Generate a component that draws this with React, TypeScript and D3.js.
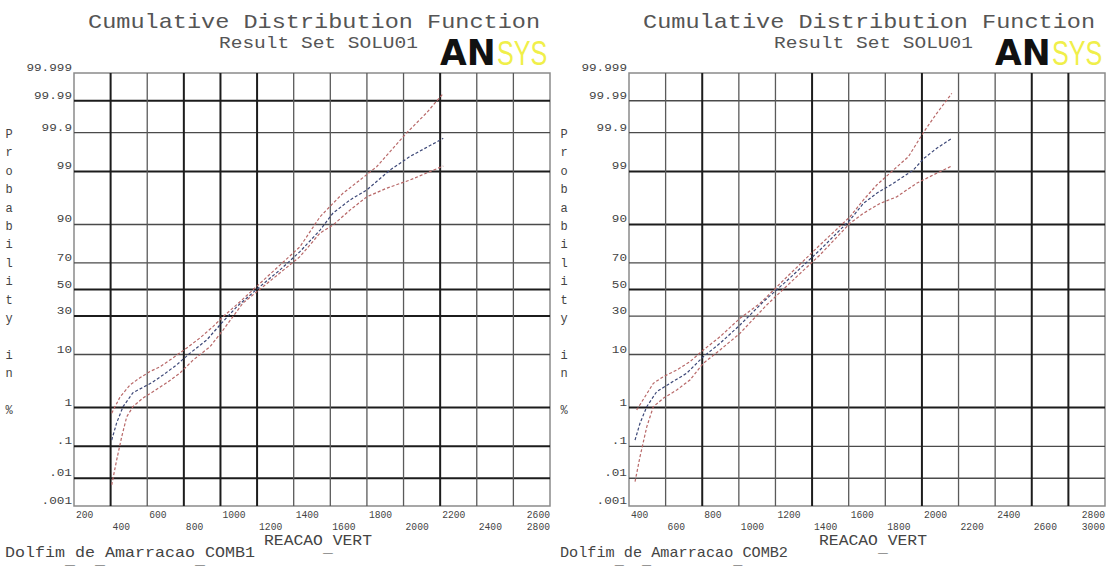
import React from "react";
import * as d3 from "d3";

// Probability axis (percent) and its labels
const probTicks = [0.001, 0.01, 0.1, 1, 10, 30, 50, 70, 90, 99, 99.9, 99.99, 99.999];
const probTickLabels = [".001", ".01", ".1", "1", "10", "30", "50", "70", "90", "99", "99.9", "99.99", "99.999"];

// REACAO_VERT ticks for each load combination
const comb1XTicks = [200, 400, 600, 800, 1000, 1200, 1400, 1600, 1800, 2000, 2200, 2400, 2600, 2800];
const comb2XTicks = [400, 600, 800, 1000, 1200, 1400, 1600, 1800, 2000, 2200, 2400, 2600, 2800, 3000];

// COMB1: fitted CDF and confidence bounds (value, cumulative probability %)
const comb1MeanX = [406, 433, 468, 522, 577, 624, 686, 761, 834, 925, 1007, 1089, 1200, 1325, 1434, 1544, 1615, 1707, 1799, 1926, 2035, 2217];
const comb1MeanP = [0.151, 0.43, 1.05, 2.1, 2.7, 3.3, 4.6, 6.9, 10.5, 16, 25.5, 36.7, 50.4, 65, 77.2, 87.9, 93.4, 96.1, 97.5, 99.07, 99.56, 99.855];
const comb1UpperX = [406, 451, 506, 560, 615, 670, 741, 816, 888, 959, 1014, 1107, 1270, 1434, 1544, 1598, 1669, 1762, 1853, 2017, 2126, 2217];
const comb1UpperP = [0.74, 1.7, 3.0, 4.1, 5.3, 6.4, 8.9, 12.5, 17, 23.2, 29.6, 40.5, 61.8, 80, 92.4, 94.9, 97.1, 98.45, 99.22, 99.898, 99.975, 99.9944];
const comb1LowerX = [406, 433, 461, 488, 522, 577, 631, 706, 779, 850, 943, 1014, 1123, 1280, 1434, 1544, 1615, 1707, 1799, 1908, 2035, 2217];
const comb1LowerP = [0.0059, 0.039, 0.19, 0.61, 1.05, 1.63, 2.2, 3.3, 5.0, 8.2, 13, 21.2, 39.5, 57.7, 74.1, 86.7, 89.8, 94.1, 96.6, 97.7, 98.45, 99.25];

// COMB2: fitted CDF and confidence bounds
const comb2MeanX = [433, 460, 497, 551, 624, 715, 806, 897, 1006, 1134, 1279, 1443, 1607, 1680, 1753, 1844, 1953, 2011, 2081, 2163];
const comb2MeanP = [0.151, 0.42, 1.05, 2.2, 3.23, 4.94, 9.28, 14.46, 24.2, 40.5, 59, 78.2, 91.45, 95.5, 97.1, 98.18, 99.07, 99.51, 99.73, 99.855];
const comb2UpperX = [442, 487, 533, 587, 661, 733, 806, 897, 1006, 1116, 1279, 1443, 1607, 1680, 1753, 1844, 1926, 2011, 2081, 2163];
const comb2UpperP = [0.88, 1.73, 3.23, 4.29, 5.64, 7.75, 11.66, 17.6, 28.5, 39.3, 62, 81, 92.4, 96.1, 98.02, 99.07, 99.555, 99.906, 99.974, 99.9944];
const comb2LowerX = [433, 460, 497, 533, 587, 661, 733, 806, 897, 1006, 1152, 1279, 1443, 1607, 1680, 1771, 1862, 1971, 2062, 2163];
const comb2LowerP = [0.0077, 0.049, 0.34, 1.05, 1.6, 2.39, 3.73, 7.3, 11.66, 19.4, 38, 55.1, 75.2, 90.4, 93.33, 95.5, 96.6, 98.18, 98.8, 99.25];

const titleText = "Cumulative Distribution Function";
const subtitleText = "Result Set SOLU01";
const xAxisName = "REACAO_VERT";
const yAxisName = "Probability in %";

// Inverse standard normal CDF (Acklam's rational approximation)
function probit(p: number): number {
  const a = [-3.969683028665376e1, 2.209460984245205e2, -2.759285104469687e2, 1.38357751867269e2, -3.066479806614716e1, 2.506628277459239];
  const b = [-5.447609879822406e1, 1.615858368580409e2, -1.556989798598866e2, 6.680131188771972e1, -1.328068155288572e1];
  const c = [-7.784894002430293e-3, -3.223964580411365e-1, -2.400758277161838, -2.549732539343734, 4.374664141464968, 2.938163982698783];
  const d = [7.784695709041462e-3, 3.224671290700398e-1, 2.445134137142996, 3.754408361673055];
  const pl = 0.02425;
  if (p < pl) {
    const q = Math.sqrt(-2 * Math.log(p));
    return (((((c[0] * q + c[1]) * q + c[2]) * q + c[3]) * q + c[4]) * q + c[5]) / ((((d[0] * q + d[1]) * q + d[2]) * q + d[3]) * q + 1);
  }
  if (p <= 1 - pl) {
    const q = p - 0.5;
    const r = q * q;
    return ((((((a[0] * r + a[1]) * r + a[2]) * r + a[3]) * r + a[4]) * r + a[5]) * q) / (((((b[0] * r + b[1]) * r + b[2]) * r + b[3]) * r + b[4]) * r + 1);
  }
  const q = Math.sqrt(-2 * Math.log(1 - p));
  return -(((((c[0] * q + c[1]) * q + c[2]) * q + c[3]) * q + c[4]) * q + c[5]) / ((((d[0] * q + d[1]) * q + d[2]) * q + d[3]) * q + 1);
}

const MONO = "'Liberation Mono', 'DejaVu Sans Mono', monospace";

// Text whose underscores sit low, as in the ANSYS stroke font
function LowScoreText(props: { x: number; y: number; text: string; size: number; width: number; anchor?: string; fill?: string }) {
  const parts = props.text.split("_");
  return (
    <text
      x={props.x}
      y={props.y}
      fontFamily={MONO}
      fontSize={props.size}
      fill={props.fill || "#444"}
      textAnchor={props.anchor || "start"}
      textLength={props.width}
      lengthAdjust="spacingAndGlyphs"
    >
      {parts.map((p, i) => (
        <React.Fragment key={i}>
          {i > 0 && <tspan dy={7}>_</tspan>}
          <tspan dy={i > 0 ? -7 : 0}>{p}</tspan>
        </React.Fragment>
      ))}
    </text>
  );
}

type Curve = { xs: number[]; ps: number[]; color: string };

function Panel(props: {
  dx: number;
  xTicks: number[];
  curves: Curve[];
  footer: string;
  footerWidth: number;
  heavyH: number[];
  heavyV: number[];
}) {
  const { dx, xTicks, curves } = props;
  const left = 74 + dx;
  const right = 550 + dx;
  const top = 73;
  const bottom = 506;

  const x = d3.scaleLinear().domain([xTicks[0], xTicks[xTicks.length - 1]]).range([left, right]);
  const z = d3
    .scaleLinear()
    .domain([probit(probTicks[0] / 100), probit(probTicks[probTicks.length - 1] / 100)])
    .range([bottom, top]);
  const y = (p: number) => z(probit(p / 100));

  const line = d3
    .line<[number, number]>()
    .x((d) => x(d[0]))
    .y((d) => y(d[1]));

  const xAdvance = 5.8;
  const yAdvance = 7.6;

  return (
    <g>
      {/* title block */}
      <text x={88 + dx} y={28} fontFamily={MONO} fontSize={21} fill="#555" textLength={452} lengthAdjust="spacingAndGlyphs">
        {titleText}
      </text>
      <text x={219 + dx} y={48} fontFamily={MONO} fontSize={16} fill="#555" textLength={199} lengthAdjust="spacingAndGlyphs">
        {subtitleText}
      </text>
      {/* ANSYS logo: heavy black "AN", light yellow "SYS" */}
      <g transform={`translate(${440 + dx},65) scale(0.96,1)`}>
        <text x={0} y={0} fontSize={36} fontFamily="'DejaVu Sans', sans-serif" fontWeight="bold" fill="#111">
          AN
        </text>
      </g>
      <g transform={`translate(${497 + dx},65) scale(0.7,1)`}>
        <text x={0} y={0} fontSize={36} fontFamily="'Liberation Sans', sans-serif" fill="#f0ef4a">
          SYS
        </text>
      </g>

      {/* plot frame */}
      <rect x={left} y={top} width={right - left} height={bottom - top} fill="#fff" stroke="#8a8a8a" strokeWidth={1.5} />

      {/* horizontal probability grid */}
      {probTicks.slice(1, -1).map((p) => {
        const heavy = props.heavyH.includes(p);
        return (
          <line
            key={"h" + p}
            x1={left}
            x2={right}
            y1={y(p)}
            y2={y(p)}
            stroke={heavy ? "#1c1c1c" : "#4a4a4a"}
            strokeWidth={heavy ? 2 : 1.4}
          />
        );
      })}

      {/* vertical grid */}
      {xTicks.slice(1, -1).map((v) => {
        const heavy = props.heavyV.includes(v);
        return (
          <line
            key={"v" + v}
            x1={x(v)}
            x2={x(v)}
            y1={top}
            y2={bottom}
            stroke={heavy ? "#1c1c1c" : "#5a5a5a"}
            strokeWidth={heavy ? 2 : 1.3}
          />
        );
      })}

      {/* curves */}
      {curves.map((c, i) => (
        <path
          key={"c" + i}
          d={line(c.xs.map((v, k) => [v, c.ps[k]] as [number, number])) || ""}
          fill="none"
          stroke={c.color}
          strokeWidth={1.2}
          strokeDasharray="3,2"
        />
      ))}

      {/* probability labels */}
      {probTicks.map((p, i) => (
        <text
          key={"yl" + p}
          x={left - 2}
          y={y(p) - 2}
          fontFamily={MONO}
          fontSize={10}
          fill="#444"
          textAnchor="end"
          textLength={probTickLabels[i].length * yAdvance}
          lengthAdjust="spacingAndGlyphs"
        >
          {probTickLabels[i]}
        </text>
      ))}

      {/* value labels, staggered on two rows; the last two are kept inside the frame */}
      {xTicks.map((v, i) => {
        const label = String(v);
        const w = label.length * xAdvance;
        const start = i >= xTicks.length - 2 ? right - w : x(v) + 2;
        return (
          <text
            key={"xl" + v}
            x={start}
            y={i % 2 === 0 ? 518 : 530}
            fontFamily={MONO}
            fontSize={11}
            fill="#444"
            textLength={w}
            lengthAdjust="spacingAndGlyphs"
          >
            {label}
          </text>
        );
      })}

      {/* axis names */}
      <LowScoreText x={(left + right) / 2 + 6} y={545} text={xAxisName} size={15} width={108} anchor="middle" />
      {yAxisName.split("").map((ch, i) =>
        ch === " " ? null : (
          <text key={"ya" + i} x={9 + dx} y={138 + i * 18.4} fontFamily={MONO} fontSize={12} fill="#444" textAnchor="middle">
            {ch}
          </text>
        )
      )}

      {/* footer */}
      <LowScoreText x={5 + dx} y={557} text={props.footer} size={15} width={props.footerWidth} />
    </g>
  );
}

const MEAN_COLOR = "#3d4878";
const BOUND_COLOR = "#b86868";

export default function App() {
  return (
    <div style={{ position: "absolute", left: 0, top: 0 }}>
      <svg width={1110} height={571} style={{ display: "block", background: "#fff" }}>
        <Panel
          dx={0}
          xTicks={comb1XTicks}
          curves={[
            { xs: comb1UpperX, ps: comb1UpperP, color: BOUND_COLOR },
            { xs: comb1LowerX, ps: comb1LowerP, color: BOUND_COLOR },
            { xs: comb1MeanX, ps: comb1MeanP, color: MEAN_COLOR },
          ]}
          footer="Dolfim_de_Amarracao_COMB1"
          footerWidth={250}
          heavyH={[99.99, 99, 50, 30, 1, 0.1, 0.01]}
          heavyV={[400, 800, 1000, 1200, 2200]}
        />
        <Panel
          dx={555}
          xTicks={comb2XTicks}
          curves={[
            { xs: comb2UpperX, ps: comb2UpperP, color: BOUND_COLOR },
            { xs: comb2LowerX, ps: comb2LowerP, color: BOUND_COLOR },
            { xs: comb2MeanX, ps: comb2MeanP, color: MEAN_COLOR },
          ]}
          footer="Dolfim_de_Amarracao_COMB2"
          footerWidth={228}
          heavyH={[99, 90, 50, 1]}
          heavyV={[800, 1400, 2000, 2600, 2800]}
        />
      </svg>
    </div>
  );
}
